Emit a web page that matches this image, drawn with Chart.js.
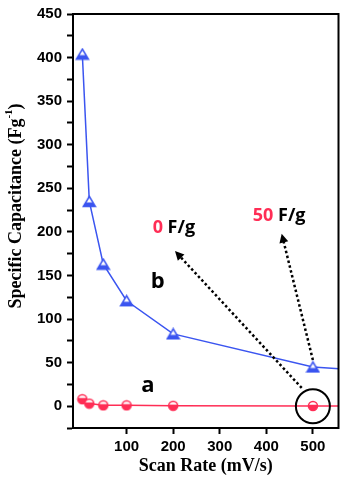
<!DOCTYPE html>
<html lang="en">
<head>
  <meta charset="UTF-8">
  <title>Specific Capacitance vs Scan Rate</title>
  <script src="https://cdn.jsdelivr.net/npm/chart.js"></script>
  <style>
    body {
      background-color: white;
      margin: 0;
      padding: 0;
    }
    #wrap {
      width: 344px;
      height: 485px;
    }
  </style>
</head>
<body>
<div id="wrap"><canvas id="chart"></canvas></div>

<script>
// data
const scanRate = [5, 20, 50, 100, 200, 500, 1000];
const capB = [404, 235, 163, 121, 83, 45, 27];
const capA = [8, 3, 1, 1, 0.5, 0.3, 0];
const xTicks = [100, 200, 300, 400, 500];
const yTicks = [-25, 0, 25, 50, 75, 100, 125, 150, 175, 200, 225, 250, 275, 300, 325, 350, 375, 400, 425, 450];
const yLabels = [0, 50, 100, 150, 200, 250, 300, 350, 400, 450];

const blue = '#3b55f0';
const red = '#ff2d55';

function halfCircle(r, color) {
  const c = document.createElement('canvas');
  c.width = c.height = 2 * r + 3;
  const ctx = c.getContext('2d');
  const m = r + 1.5;
  ctx.fillStyle = 'white';
  ctx.beginPath(); ctx.arc(m, m, r, 0, Math.PI * 2); ctx.fill();
  ctx.fillStyle = color;
  ctx.beginPath(); ctx.arc(m, m, r, -0.3, Math.PI + 0.3); ctx.fill();
  ctx.strokeStyle = color;
  ctx.lineWidth = 1.5;
  ctx.beginPath(); ctx.arc(m, m, r, 0, Math.PI * 2); ctx.stroke();
  return c;
}

function halfTriangle(w, h, color) {
  const c = document.createElement('canvas');
  c.width = w + 3;
  c.height = h + 3;
  const ctx = c.getContext('2d');
  const x0 = 1.5, y0 = 1.5;
  ctx.beginPath();
  ctx.moveTo(x0 + w / 2, y0);
  ctx.lineTo(x0 + w, y0 + h);
  ctx.lineTo(x0, y0 + h);
  ctx.closePath();
  ctx.fillStyle = 'white';
  ctx.fill();
  ctx.save();
  ctx.clip();
  ctx.fillStyle = color;
  ctx.fillRect(0, y0 + h * 0.6, w + 3, h);
  ctx.restore();
  ctx.strokeStyle = color;
  ctx.lineWidth = 1.5;
  ctx.stroke();
  return c;
}

function dottedArrow(ctx, x0, y0, x1, y1) {
  ctx.save();
  ctx.strokeStyle = 'black';
  ctx.fillStyle = 'black';
  ctx.lineWidth = 2.5;
  ctx.setLineDash([2.5, 2.5]);
  const a = Math.atan2(y1 - y0, x1 - x0);
  const ex = x1 - Math.cos(a) * 6, ey = y1 - Math.sin(a) * 6;
  ctx.beginPath(); ctx.moveTo(x0, y0); ctx.lineTo(ex, ey); ctx.stroke();
  ctx.setLineDash([]);
  ctx.beginPath();
  ctx.moveTo(x1, y1);
  ctx.lineTo(x1 - Math.cos(a) * 9 - Math.sin(a) * 4.5, y1 - Math.sin(a) * 9 + Math.cos(a) * 4.5);
  ctx.lineTo(x1 - Math.cos(a) * 9 + Math.sin(a) * 4.5, y1 - Math.sin(a) * 9 - Math.cos(a) * 4.5);
  ctx.closePath();
  ctx.fill();
  ctx.restore();
}

const decorations = {
  id: 'decorations',
  afterDatasetsDraw(chart) {
    const { ctx, chartArea: ca, scales: { x, y } } = chart;
    const px = v => x.getPixelForValue(v);
    const py = v => y.getPixelForValue(v);
    ctx.save();
    // frame
    ctx.strokeStyle = 'black';
    ctx.lineWidth = 2;
    ctx.strokeRect(ca.left, ca.top, ca.right - ca.left, ca.bottom - ca.top);

    // circle round the last red point
    ctx.lineWidth = 2;
    ctx.beginPath();
    ctx.arc(px(500), py(0), 17, 0, Math.PI * 2);
    ctx.stroke();

    dottedArrow(ctx, px(476), py(21), px(204), py(178));
    dottedArrow(ctx, px(500), py(53), px(433), py(198));

    // labels
    ctx.textBaseline = 'alphabetic';
    ctx.font = 'bold 18px "Open Sans", sans-serif';
    ctx.fillStyle = red;
    ctx.fillText('0', px(156), py(199));
    let w = ctx.measureText('0 ').width;
    ctx.fillStyle = 'black';
    ctx.fillText('F/g', px(156) + w, py(199));
    ctx.fillStyle = red;
    ctx.fillText('50', px(371), py(212));
    w = ctx.measureText('50 ').width;
    ctx.fillStyle = 'black';
    ctx.fillText('F/g', px(371) + w, py(212));

    ctx.font = 'bold 22px "Open Sans", sans-serif';
    ctx.textAlign = 'center';
    ctx.textBaseline = 'middle';
    ctx.fillText('a', px(146), py(24));
    ctx.fillText('b', px(167), py(143));
    ctx.restore();

    // axis titles
    ctx.save();
    ctx.fillStyle = 'black';
    ctx.font = 'bold 18px "Liberation Serif", serif';
    ctx.textAlign = 'center';
    ctx.textBaseline = 'middle';
    ctx.fillText('Scan Rate (mV/s)', (ca.left + ca.right) / 2, 466);

    ctx.translate(16, 206);
    ctx.rotate(-Math.PI / 2);
    const main = 'Specific Capacitance (Fg';
    ctx.font = 'bold 18px "Liberation Serif", serif';
    const mw = ctx.measureText(main).width;
    ctx.font = 'bold 11px "Liberation Serif", serif';
    const sw = ctx.measureText('-1').width;
    ctx.font = 'bold 18px "Liberation Serif", serif';
    const cw = ctx.measureText(')').width;
    let sx = -(mw + sw + cw) / 2;
    ctx.textAlign = 'left';
    ctx.fillText(main, sx, 0);
    ctx.font = 'bold 11px "Liberation Serif", serif';
    ctx.fillText('-1', sx + mw, -7);
    ctx.font = 'bold 18px "Liberation Serif", serif';
    ctx.fillText(')', sx + mw + sw, 0);
    ctx.restore();
  }
};

new Chart(document.getElementById('chart'), {
  type: 'line',
  data: {
    datasets: [
      {
        label: 'b',
        data: scanRate.map((v, i) => ({ x: v, y: capB[i] })),
        borderColor: blue,
        borderWidth: 1.5,
        pointStyle: halfTriangle(12, 10, blue),
        tension: 0
      },
      {
        label: 'a',
        data: scanRate.map((v, i) => ({ x: v, y: capA[i] })),
        borderColor: red,
        borderWidth: 1.5,
        pointStyle: halfCircle(4.5, red),
        tension: 0
      }
    ]
  },
  options: {
    responsive: true,
    maintainAspectRatio: false,
    animation: false,
    layout: { padding: { top: 10, right: 5, left: 0, bottom: 0 } },
    plugins: { legend: { display: false }, tooltip: { enabled: false } },
    scales: {
      x: {
        type: 'linear',
        min: -15,
        max: 555,
        afterBuildTicks: s => { s.ticks = xTicks.map(v => ({ value: v })); },
        afterFit: s => { s.height = 57; },
        border: { display: true, color: 'black', width: 2 },
        grid: { display: true, drawOnChartArea: false, tickLength: 6, tickWidth: 2, tickColor: 'black' },
        ticks: {
          autoSkip: false, maxRotation: 0, color: 'black', padding: 4,
          font: { family: '"Liberation Sans", Arial, sans-serif', size: 15, weight: 'bold' }
        }
      },
      y: {
        min: -25,
        max: 450,
        afterBuildTicks: s => { s.ticks = yTicks.map(v => ({ value: v })); },
        afterFit: s => { s.width = 73; },
        border: { display: true, color: 'black', width: 2 },
        grid: { display: true, drawOnChartArea: false, tickLength: 6, tickWidth: 2, tickColor: 'black' },
        ticks: {
          autoSkip: false, color: 'black', padding: 5,
          font: { family: '"Liberation Sans", Arial, sans-serif', size: 15, weight: 'bold' },
          callback: v => yLabels.includes(v) ? String(v) : ''
        }
      }
    }
  },
  plugins: [decorations]
});
</script>
</body>
</html>
